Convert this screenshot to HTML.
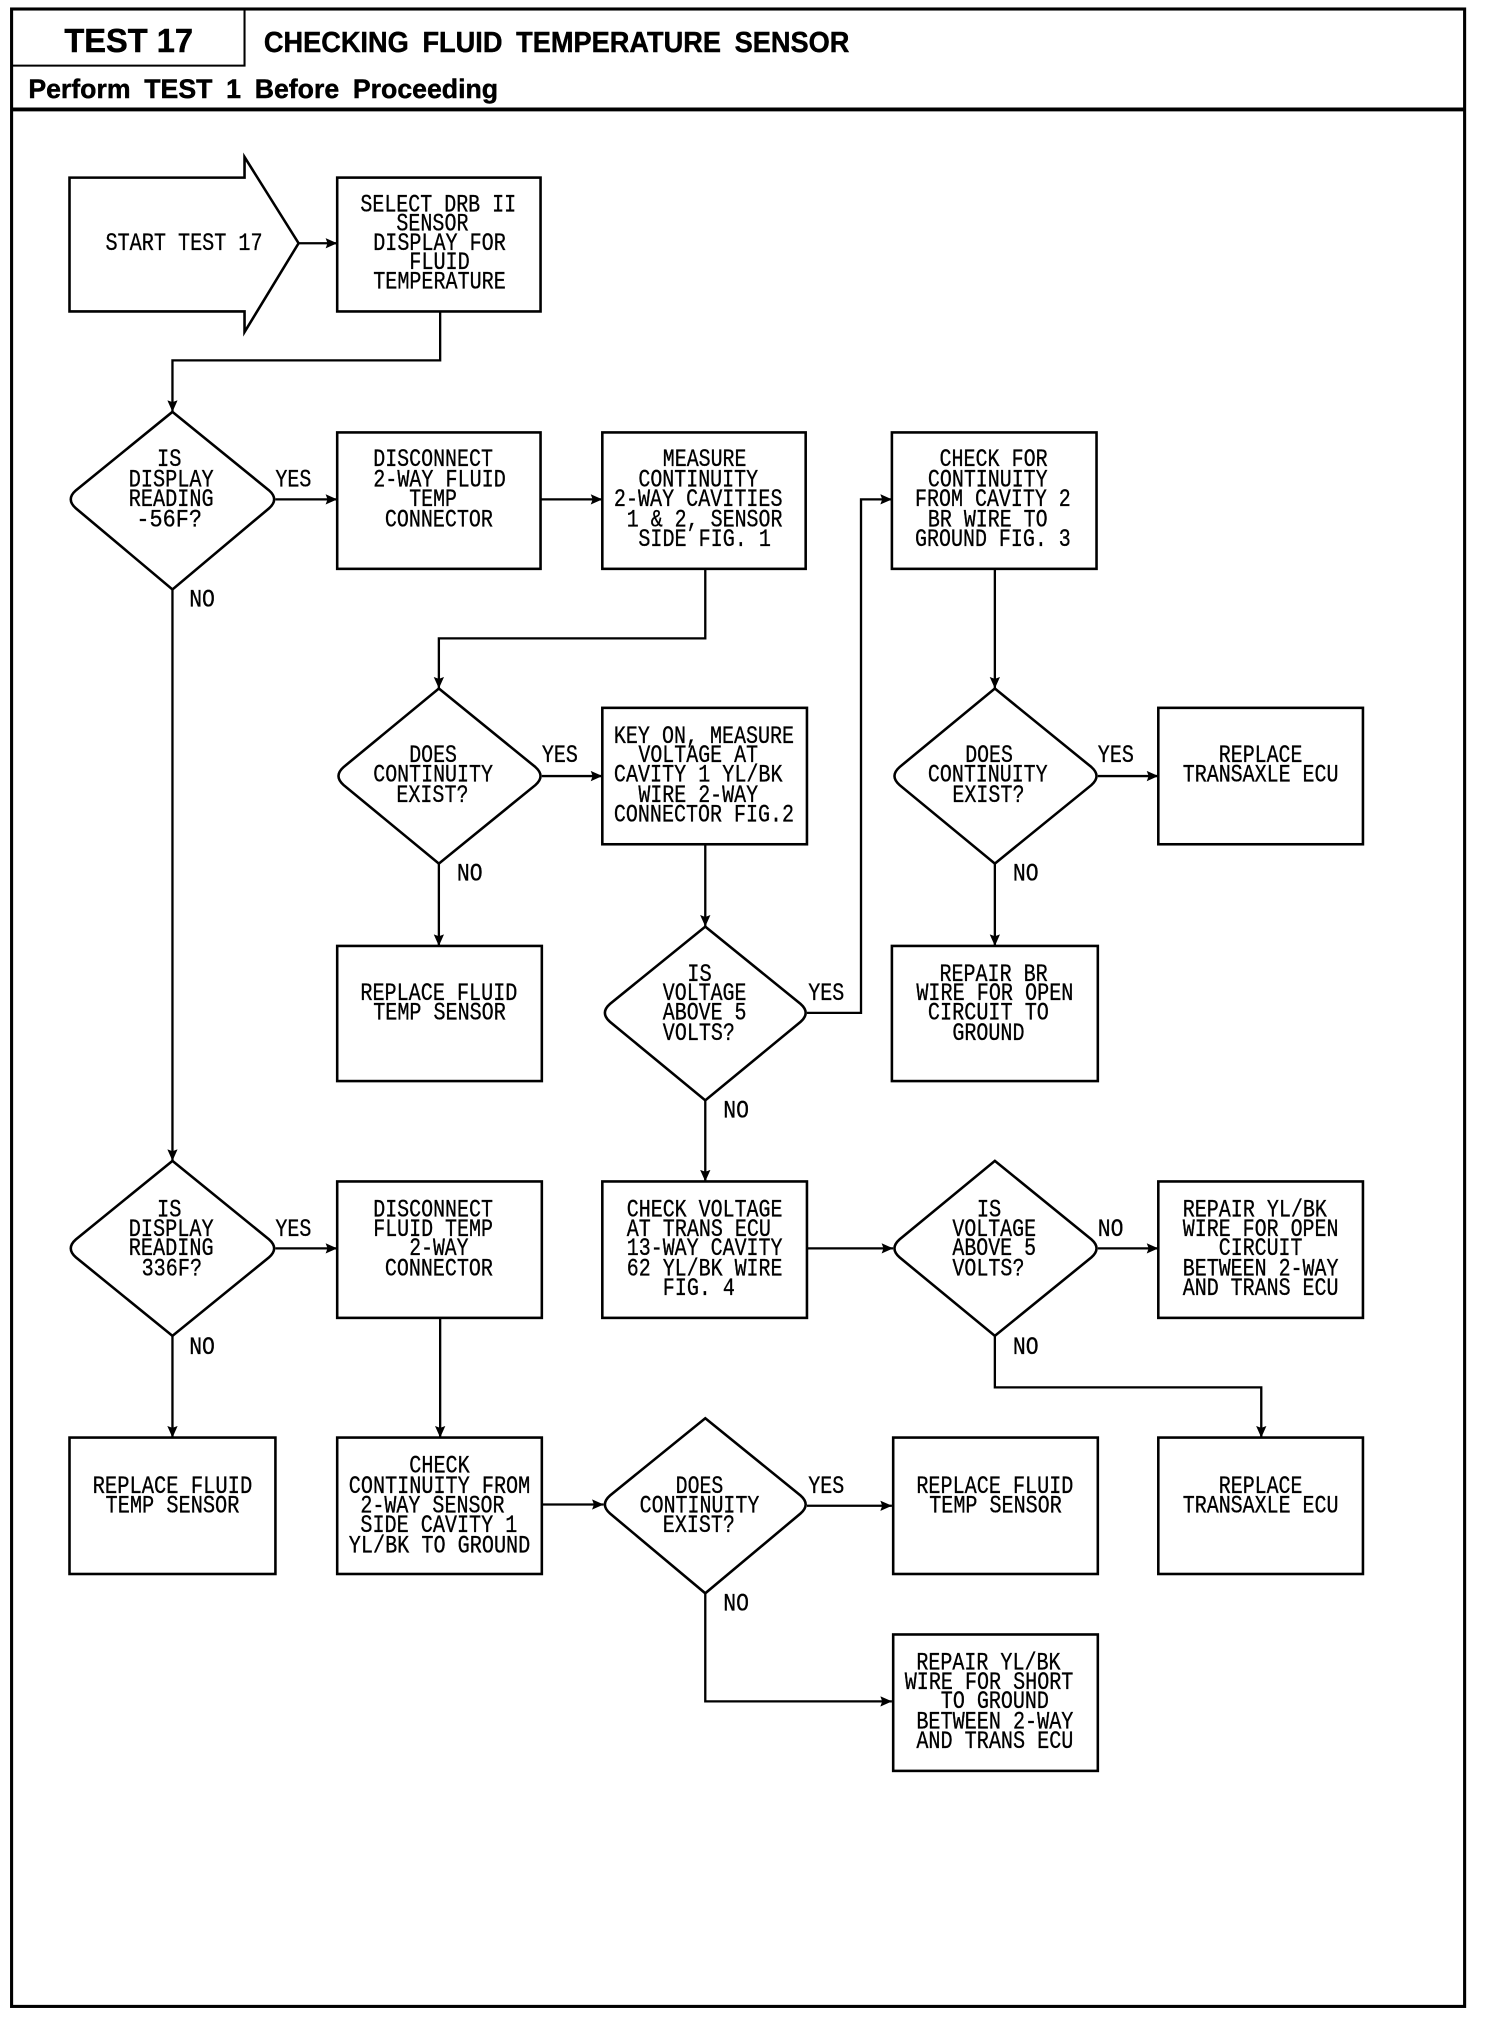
<!DOCTYPE html>
<html><head><meta charset="utf-8"><title>TEST 17</title>
<style>
html,body{margin:0;padding:0;background:#fff}
svg{display:block}
.t text{font-family:"Liberation Mono",monospace;font-size:19.5px;fill:#000;stroke:#000;stroke-width:.25}
.h text{font-family:"Liberation Sans",sans-serif;font-weight:bold;fill:#000;stroke:#000;stroke-width:.35;word-spacing:5px}
.b rect,.b path{fill:#fff;stroke:#000;stroke-width:2}
.c path{fill:none;stroke:#000;stroke-width:1.8;marker-end:url(#a)}
</style></head><body>
<svg xmlns="http://www.w3.org/2000/svg" width="1504" height="2018" viewBox="0 0 1168.6 1568" preserveAspectRatio="none">
<defs><marker id="a" markerUnits="userSpaceOnUse" markerWidth="10" markerHeight="10" refX="9" refY="4" orient="auto"><path d="M0,0L9,4L0,8L1.5,4Z" fill="#000"/></marker></defs>
<rect width="1168.6" height="1568" fill="#fff"/>
<rect x="9" y="7" width="1129" height="1552" fill="#fff" stroke="#000" stroke-width="2.4"/>
<path d="M190,7V51H9" fill="none" stroke="#000" stroke-width="1.6"/>
<path d="M9,85H1138" fill="none" stroke="#000" stroke-width="3"/>
<g class="h">
<text x="50" y="40.5" font-size="26" textLength="100" lengthAdjust="spacingAndGlyphs" style="word-spacing:0">TEST 17</text>
<text x="205" y="40.5" font-size="22" textLength="455" lengthAdjust="spacingAndGlyphs">CHECKING FLUID TEMPERATURE SENSOR</text>
<text x="22" y="76" font-size="21" textLength="365" lengthAdjust="spacingAndGlyphs">Perform TEST 1 Before Proceeding</text>
</g>
<g class="b">
<path d="M54,138H190V122L232,189L190,258V242H54Z"/>
<rect x="262" y="138" width="158" height="104"/>
<rect x="262" y="336" width="158" height="106"/>
<rect x="468" y="336" width="158" height="106"/>
<rect x="693" y="336" width="159" height="106"/>
<rect x="468" y="550" width="159" height="106"/>
<rect x="900" y="550" width="159" height="106"/>
<rect x="262" y="735" width="159" height="105"/>
<rect x="693" y="735" width="160" height="105"/>
<rect x="262" y="918" width="159" height="106"/>
<rect x="468" y="918" width="159" height="106"/>
<rect x="900" y="918" width="159" height="106"/>
<rect x="54" y="1117" width="160" height="106"/>
<rect x="262" y="1117" width="159" height="106"/>
<rect x="694" y="1117" width="159" height="106"/>
<rect x="900" y="1117" width="159" height="106"/>
<rect x="694" y="1270" width="159" height="106"/>
<path d="M134,320L209,381Q217,388 209,395L134,458L59,395Q51,388 59,381Z"/>
<path d="M341,535L416,596Q424,603 416,610L341,671L267,610Q259,603 267,596Z"/>
<path d="M548,720L622,780Q630,787 622,794L548,855L474,794Q466,787 474,780Z"/>
<path d="M773,535L848,596Q856,603 848,610L773,671L699,610Q691,603 699,596Z"/>
<path d="M134,902L209,963Q217,970 209,977L134,1038L59,977Q51,970 59,963Z"/>
<path d="M773,902L848,963Q856,970 848,977L773,1038L699,977Q691,970 699,963Z"/>
<path d="M548,1102L622,1162Q630,1169 622,1176L548,1238L474,1176Q466,1169 474,1162Z"/>
</g>
<g class="c">
<path d="M232,189H262"/>
<path d="M342,242V280H134V320"/>
<path d="M214,388H262"/>
<path d="M420,388H468"/>
<path d="M548,442V496H341V535"/>
<path d="M421,603H468"/>
<path d="M548,656V720"/>
<path d="M627,787H669V388H693"/>
<path d="M548,855V918"/>
<path d="M341,671V735"/>
<path d="M773,442V535"/>
<path d="M853,603H900"/>
<path d="M773,671V735"/>
<path d="M134,458V902"/>
<path d="M214,970H262"/>
<path d="M342,1024V1117"/>
<path d="M134,1038V1117"/>
<path d="M421,1169H469"/>
<path d="M627,1170H693"/>
<path d="M548,1238V1322H693"/>
<path d="M627,970H694"/>
<path d="M853,970H900"/>
<path d="M773,1038V1078H980V1117"/>
</g>
<g class="t" transform="translate(0,-0.8)">
<text x="82" y="195" textLength="122" lengthAdjust="spacingAndGlyphs">START TEST 17</text>
<text x="280" y="165" textLength="121" lengthAdjust="spacingAndGlyphs">SELECT DRB II</text>
<text x="308" y="180" textLength="56" lengthAdjust="spacingAndGlyphs">SENSOR</text>
<text x="290" y="195" textLength="103" lengthAdjust="spacingAndGlyphs">DISPLAY FOR</text>
<text x="318" y="210" textLength="47" lengthAdjust="spacingAndGlyphs">FLUID</text>
<text x="290" y="225" textLength="103" lengthAdjust="spacingAndGlyphs">TEMPERATURE</text>

<text x="122" y="363" textLength="19" lengthAdjust="spacingAndGlyphs">IS</text>
<text x="100" y="379" textLength="66" lengthAdjust="spacingAndGlyphs">DISPLAY</text>
<text x="100" y="394" textLength="66" lengthAdjust="spacingAndGlyphs">READING</text>
<text x="106" y="410" textLength="51" lengthAdjust="spacingAndGlyphs">-56F?</text>
<text x="214" y="379" textLength="28" lengthAdjust="spacingAndGlyphs">YES</text>
<text x="147" y="472" textLength="20" lengthAdjust="spacingAndGlyphs">NO</text>

<text x="290" y="363" textLength="93" lengthAdjust="spacingAndGlyphs">DISCONNECT</text>
<text x="290" y="379" textLength="103" lengthAdjust="spacingAndGlyphs">2-WAY FLUID</text>
<text x="318" y="394" textLength="37" lengthAdjust="spacingAndGlyphs">TEMP</text>
<text x="299" y="410" textLength="84" lengthAdjust="spacingAndGlyphs">CONNECTOR</text>

<text x="515" y="363" textLength="65" lengthAdjust="spacingAndGlyphs">MEASURE</text>
<text x="496" y="379" textLength="93" lengthAdjust="spacingAndGlyphs">CONTINUITY</text>
<text x="477" y="394" textLength="131" lengthAdjust="spacingAndGlyphs">2-WAY CAVITIES</text>
<text x="487" y="410" textLength="121" lengthAdjust="spacingAndGlyphs">1 &amp; 2, SENSOR</text>
<text x="496" y="425" textLength="103" lengthAdjust="spacingAndGlyphs">SIDE FIG. 1</text>

<text x="730" y="363" textLength="84" lengthAdjust="spacingAndGlyphs">CHECK FOR</text>
<text x="721" y="379" textLength="93" lengthAdjust="spacingAndGlyphs">CONTINUITY</text>
<text x="711" y="394" textLength="121" lengthAdjust="spacingAndGlyphs">FROM CAVITY 2</text>
<text x="721" y="410" textLength="93" lengthAdjust="spacingAndGlyphs">BR WIRE TO</text>
<text x="711" y="425" textLength="121" lengthAdjust="spacingAndGlyphs">GROUND FIG. 3</text>

<text x="318" y="593" textLength="37" lengthAdjust="spacingAndGlyphs">DOES</text>
<text x="290" y="608" textLength="93" lengthAdjust="spacingAndGlyphs">CONTINUITY</text>
<text x="308" y="624" textLength="56" lengthAdjust="spacingAndGlyphs">EXIST?</text>
<text x="421" y="593" textLength="28" lengthAdjust="spacingAndGlyphs">YES</text>
<text x="355" y="685" textLength="20" lengthAdjust="spacingAndGlyphs">NO</text>

<text x="477" y="578" textLength="140" lengthAdjust="spacingAndGlyphs">KEY ON, MEASURE</text>
<text x="496" y="593" textLength="93" lengthAdjust="spacingAndGlyphs">VOLTAGE AT</text>
<text x="477" y="608" textLength="131" lengthAdjust="spacingAndGlyphs">CAVITY 1 YL/BK</text>
<text x="496" y="624" textLength="93" lengthAdjust="spacingAndGlyphs">WIRE 2-WAY</text>
<text x="477" y="639" textLength="140" lengthAdjust="spacingAndGlyphs">CONNECTOR FIG.2</text>

<text x="750" y="593" textLength="37" lengthAdjust="spacingAndGlyphs">DOES</text>
<text x="721" y="608" textLength="93" lengthAdjust="spacingAndGlyphs">CONTINUITY</text>
<text x="740" y="624" textLength="56" lengthAdjust="spacingAndGlyphs">EXIST?</text>
<text x="853" y="593" textLength="28" lengthAdjust="spacingAndGlyphs">YES</text>
<text x="787" y="685" textLength="20" lengthAdjust="spacingAndGlyphs">NO</text>

<text x="947" y="593" textLength="65" lengthAdjust="spacingAndGlyphs">REPLACE</text>
<text x="919" y="608" textLength="121" lengthAdjust="spacingAndGlyphs">TRANSAXLE ECU</text>

<text x="280" y="778" textLength="122" lengthAdjust="spacingAndGlyphs">REPLACE FLUID</text>
<text x="290" y="793" textLength="103" lengthAdjust="spacingAndGlyphs">TEMP SENSOR</text>

<text x="534" y="763" textLength="19" lengthAdjust="spacingAndGlyphs">IS</text>
<text x="515" y="778" textLength="65" lengthAdjust="spacingAndGlyphs">VOLTAGE</text>
<text x="515" y="793" textLength="65" lengthAdjust="spacingAndGlyphs">ABOVE 5</text>
<text x="515" y="809" textLength="56" lengthAdjust="spacingAndGlyphs">VOLTS?</text>
<text x="628" y="778" textLength="28" lengthAdjust="spacingAndGlyphs">YES</text>
<text x="562" y="869" textLength="20" lengthAdjust="spacingAndGlyphs">NO</text>

<text x="730" y="763" textLength="84" lengthAdjust="spacingAndGlyphs">REPAIR BR</text>
<text x="712" y="778" textLength="122" lengthAdjust="spacingAndGlyphs">WIRE FOR OPEN</text>
<text x="721" y="793" textLength="94" lengthAdjust="spacingAndGlyphs">CIRCUIT TO</text>
<text x="740" y="809" textLength="56" lengthAdjust="spacingAndGlyphs">GROUND</text>

<text x="122" y="946" textLength="19" lengthAdjust="spacingAndGlyphs">IS</text>
<text x="100" y="961" textLength="66" lengthAdjust="spacingAndGlyphs">DISPLAY</text>
<text x="100" y="976" textLength="66" lengthAdjust="spacingAndGlyphs">READING</text>
<text x="110" y="992" textLength="47" lengthAdjust="spacingAndGlyphs">336F?</text>
<text x="214" y="961" textLength="28" lengthAdjust="spacingAndGlyphs">YES</text>
<text x="147" y="1053" textLength="20" lengthAdjust="spacingAndGlyphs">NO</text>

<text x="290" y="946" textLength="93" lengthAdjust="spacingAndGlyphs">DISCONNECT</text>
<text x="290" y="961" textLength="93" lengthAdjust="spacingAndGlyphs">FLUID TEMP</text>
<text x="318" y="976" textLength="46" lengthAdjust="spacingAndGlyphs">2-WAY</text>
<text x="299" y="992" textLength="84" lengthAdjust="spacingAndGlyphs">CONNECTOR</text>

<text x="487" y="946" textLength="121" lengthAdjust="spacingAndGlyphs">CHECK VOLTAGE</text>
<text x="487" y="961" textLength="112" lengthAdjust="spacingAndGlyphs">AT TRANS ECU</text>
<text x="487" y="976" textLength="121" lengthAdjust="spacingAndGlyphs">13-WAY CAVITY</text>
<text x="487" y="992" textLength="121" lengthAdjust="spacingAndGlyphs">62 YL/BK WIRE</text>
<text x="515" y="1007" textLength="56" lengthAdjust="spacingAndGlyphs">FIG. 4</text>

<text x="759" y="946" textLength="19" lengthAdjust="spacingAndGlyphs">IS</text>
<text x="740" y="961" textLength="65" lengthAdjust="spacingAndGlyphs">VOLTAGE</text>
<text x="740" y="976" textLength="65" lengthAdjust="spacingAndGlyphs">ABOVE 5</text>
<text x="740" y="992" textLength="56" lengthAdjust="spacingAndGlyphs">VOLTS?</text>
<text x="853" y="961" textLength="20" lengthAdjust="spacingAndGlyphs">NO</text>
<text x="787" y="1053" textLength="20" lengthAdjust="spacingAndGlyphs">NO</text>

<text x="919" y="946" textLength="112" lengthAdjust="spacingAndGlyphs">REPAIR YL/BK</text>
<text x="919" y="961" textLength="121" lengthAdjust="spacingAndGlyphs">WIRE FOR OPEN</text>
<text x="947" y="976" textLength="65" lengthAdjust="spacingAndGlyphs">CIRCUIT</text>
<text x="919" y="992" textLength="121" lengthAdjust="spacingAndGlyphs">BETWEEN 2-WAY</text>
<text x="919" y="1007" textLength="121" lengthAdjust="spacingAndGlyphs">AND TRANS ECU</text>

<text x="72" y="1161" textLength="124" lengthAdjust="spacingAndGlyphs">REPLACE FLUID</text>
<text x="82" y="1176" textLength="104" lengthAdjust="spacingAndGlyphs">TEMP SENSOR</text>

<text x="318" y="1145" textLength="47" lengthAdjust="spacingAndGlyphs">CHECK</text>
<text x="271" y="1161" textLength="141" lengthAdjust="spacingAndGlyphs">CONTINUITY FROM</text>
<text x="280" y="1176" textLength="112" lengthAdjust="spacingAndGlyphs">2-WAY SENSOR</text>
<text x="280" y="1191" textLength="122" lengthAdjust="spacingAndGlyphs">SIDE CAVITY 1</text>
<text x="271" y="1207" textLength="141" lengthAdjust="spacingAndGlyphs">YL/BK TO GROUND</text>

<text x="525" y="1161" textLength="37" lengthAdjust="spacingAndGlyphs">DOES</text>
<text x="497" y="1176" textLength="93" lengthAdjust="spacingAndGlyphs">CONTINUITY</text>
<text x="515" y="1191" textLength="56" lengthAdjust="spacingAndGlyphs">EXIST?</text>
<text x="628" y="1161" textLength="28" lengthAdjust="spacingAndGlyphs">YES</text>
<text x="562" y="1252" textLength="20" lengthAdjust="spacingAndGlyphs">NO</text>

<text x="712" y="1161" textLength="122" lengthAdjust="spacingAndGlyphs">REPLACE FLUID</text>
<text x="722" y="1176" textLength="103" lengthAdjust="spacingAndGlyphs">TEMP SENSOR</text>

<text x="947" y="1161" textLength="65" lengthAdjust="spacingAndGlyphs">REPLACE</text>
<text x="919" y="1176" textLength="121" lengthAdjust="spacingAndGlyphs">TRANSAXLE ECU</text>

<text x="712" y="1298" textLength="112" lengthAdjust="spacingAndGlyphs">REPAIR YL/BK</text>
<text x="703" y="1313" textLength="131" lengthAdjust="spacingAndGlyphs">WIRE FOR SHORT</text>
<text x="731" y="1328" textLength="84" lengthAdjust="spacingAndGlyphs">TO GROUND</text>
<text x="712" y="1344" textLength="122" lengthAdjust="spacingAndGlyphs">BETWEEN 2-WAY</text>
<text x="712" y="1359" textLength="122" lengthAdjust="spacingAndGlyphs">AND TRANS ECU</text>
</g>
</svg>
</body></html>
